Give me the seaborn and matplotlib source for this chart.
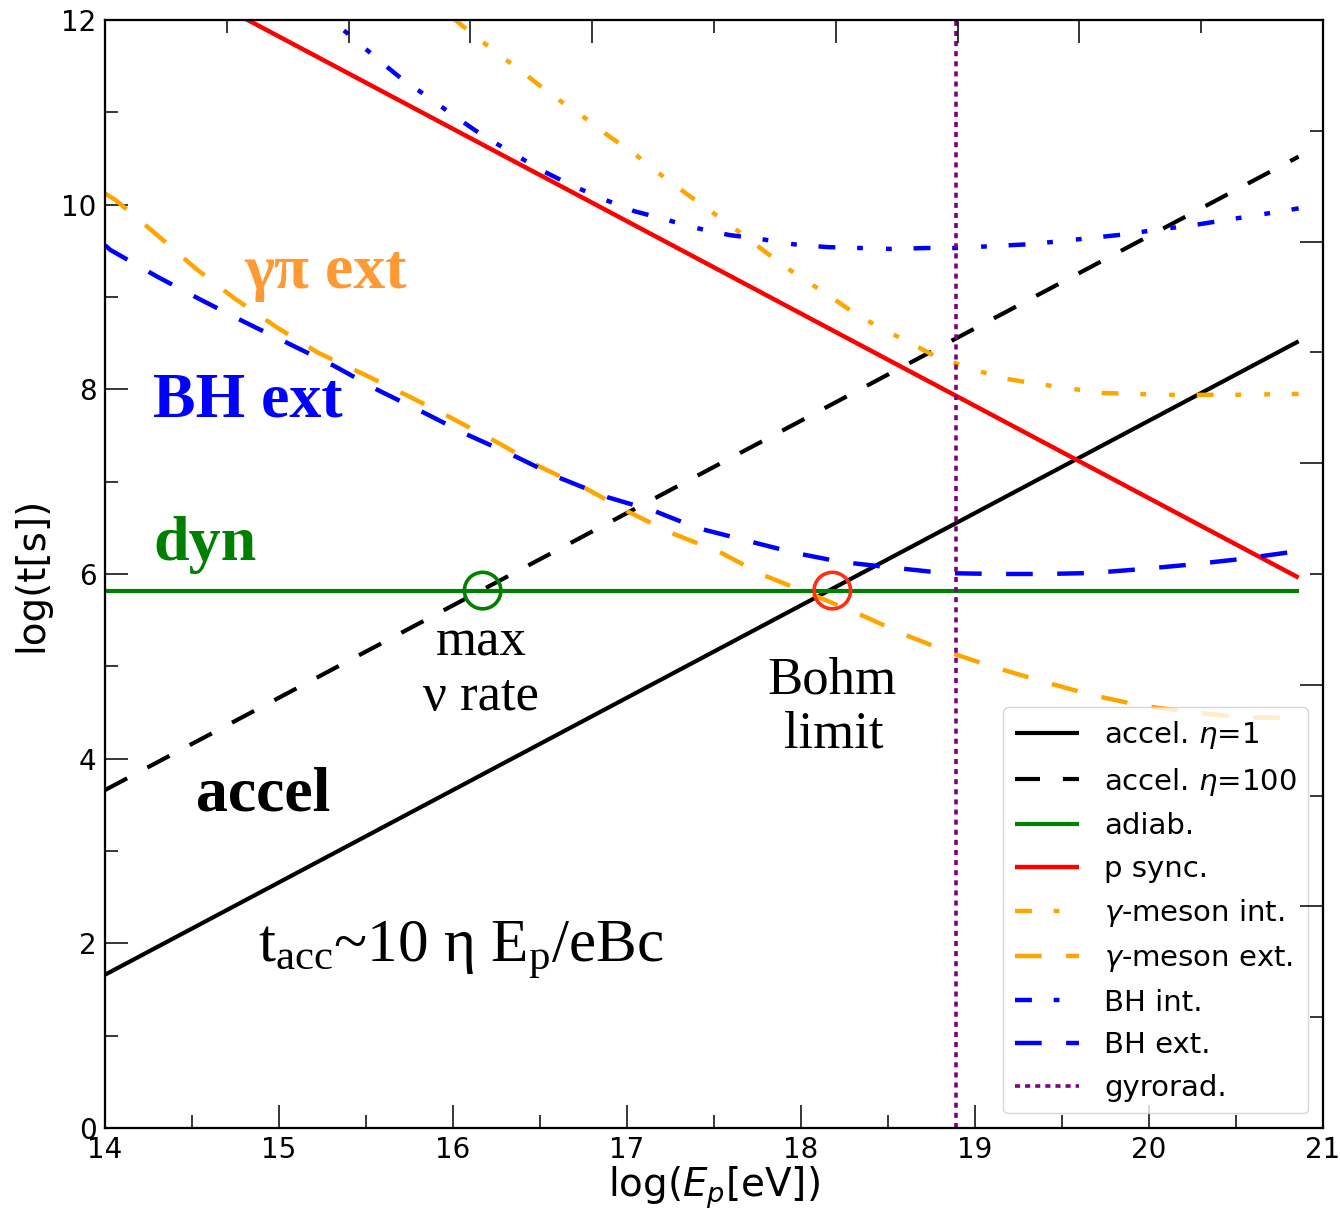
import numpy as np
import matplotlib
matplotlib.use("Agg")
import matplotlib.pyplot as plt
import seaborn as sns

# ---------------- data ----------------
x_line = [14.0, 20.86]
acc1_y = [1.66, 8.52]          # accel eta=1
acc100_y = [3.66, 10.52]       # accel eta=100
adiab_y = [5.82, 5.82]
psync_x = [14.0, 20.86]
psync_y = [12.82, 5.96]

gint_x = [16.00, 16.13, 16.29, 16.43, 16.58, 16.75, 16.89, 17.05, 17.21, 17.34, 17.51,
          17.67, 17.80, 17.96, 18.14, 18.28, 18.44, 18.63, 18.76, 18.95, 19.16, 19.32,
          19.54, 19.73, 20.10, 20.47, 20.86]
gint_y = [12.02, 11.82, 11.59, 11.39, 11.17, 10.95, 10.75, 10.54, 10.30, 10.12, 9.89,
          9.67, 9.48, 9.26, 9.04, 8.86, 8.68, 8.50, 8.37, 8.24, 8.12, 8.07,
          8.01, 7.96, 7.94, 7.94, 7.95]

gext_x = [14.00, 14.06, 14.30, 14.52, 14.74, 14.98, 15.22, 15.49, 15.75, 15.99, 16.26,
          16.50, 16.76, 17.00, 17.26, 17.53, 17.78, 18.10, 18.34, 18.60, 18.87, 19.11,
          19.40, 19.67, 19.94, 20.21, 20.52, 20.79, 20.86]
gext_y = [10.12, 10.05, 9.67, 9.31, 8.99, 8.68, 8.40, 8.16, 7.92, 7.69, 7.42,
          7.16, 6.93, 6.68, 6.44, 6.24, 5.99, 5.75, 5.56, 5.34, 5.14, 4.99,
          4.83, 4.69, 4.58, 4.51, 4.45, 4.44, 4.44]

bint_x = [15.20, 15.39, 15.57, 15.70, 15.86, 16.03, 16.17, 16.34, 16.51, 16.67, 16.85,
          17.04, 17.20, 17.39, 17.59, 17.76, 17.96, 18.15, 18.34, 18.52, 18.72, 18.89,
          19.09, 19.30, 19.47, 19.67, 19.87, 20.05, 20.23, 20.43, 20.60, 20.80, 20.86]
bint_y = [12.15, 11.86, 11.57, 11.37, 11.16, 10.93, 10.75, 10.56, 10.37, 10.22, 10.07,
          9.93, 9.85, 9.75, 9.67, 9.63, 9.57, 9.54, 9.53, 9.52, 9.53, 9.53,
          9.55, 9.57, 9.60, 9.64, 9.68, 9.73, 9.77, 9.83, 9.88, 9.94, 9.96]

bext_x = [14.00, 14.03, 14.30, 14.55, 14.80, 15.05, 15.31, 15.57, 15.84, 16.08, 16.34,
          16.60, 16.89, 17.16, 17.40, 17.67, 17.96, 18.23, 18.52, 18.82, 19.11, 19.40,
          19.67, 19.94, 20.23, 20.52, 20.79, 20.86]
bext_y = [9.56, 9.51, 9.22, 8.97, 8.73, 8.50, 8.26, 7.99, 7.74, 7.51, 7.29,
          7.05, 6.83, 6.68, 6.50, 6.37, 6.23, 6.13, 6.07, 6.01, 6.00, 6.00,
          6.01, 6.05, 6.10, 6.16, 6.23, 6.24]

gyro_x = [18.89, 18.89]
gyro_y = [0.0, 12.0]

nu_max = (16.17, 5.82)
bohm = (18.18, 5.82)

top_major = [15.4, 16.1, 16.8, 18.2, 18.9, 19.6]
top_minor = [14.7, 17.5, 20.3]
right_major = [0.0, 2.4, 4.8, 7.2, 9.6, 12.0]
right_minor = [1.2, 3.6, 6.0, 8.4, 10.8]

# ---------------- style ----------------
sns.set_style("ticks")
plt.rcParams["font.family"] = ["DejaVu Sans"]
plt.rcParams["mathtext.fontset"] = "dejavusans"
plt.rcParams["lines.solid_capstyle"] = "butt"
plt.rcParams["lines.dash_capstyle"] = "butt"
for k in ["text.color", "axes.labelcolor", "xtick.color", "ytick.color", "axes.edgecolor"]:
    plt.rcParams[k] = "black"

fig = plt.figure(figsize=(13.4, 12.1), dpi=100)
ax = fig.add_axes([0.0784, 0.0678, 0.9089, 0.9157])

DASH = (0, (6.0, 5.5))
DASHDOT = (0, (3.8, 4.9, 1.3, 5.2, 1.3, 4.9))
DOT = (0, (1.4, 1.4))

sns.lineplot(x=x_line, y=acc1_y, ax=ax, color="black", lw=3.0, label=r"accel. $\eta$=1")
sns.lineplot(x=x_line, y=acc100_y, ax=ax, color="black", lw=3.0, linestyle=DASH,
             label=r"accel. $\eta$=100")
sns.lineplot(x=x_line, y=adiab_y, ax=ax, color="green", lw=3.0, label="adiab.")
sns.lineplot(x=psync_x, y=psync_y, ax=ax, color="red", lw=3.2, label="p sync.")
sns.lineplot(x=gint_x, y=gint_y, ax=ax, color="orange", lw=3.2, linestyle=DASHDOT,
             label=r"$\gamma$-meson int.")
sns.lineplot(x=gext_x, y=gext_y, ax=ax, color="orange", lw=3.2, linestyle=DASH,
             label=r"$\gamma$-meson ext.")
sns.lineplot(x=bint_x, y=bint_y, ax=ax, color="blue", lw=3.2, linestyle=DASHDOT,
             label="BH int.")
sns.lineplot(x=bext_x, y=bext_y, ax=ax, color="blue", lw=3.2, linestyle=DASH,
             label="BH ext.")
sns.lineplot(x=gyro_x, y=gyro_y, ax=ax, color="purple", lw=2.6, linestyle=DOT,
             estimator=None, sort=False, label="gyrorad.")

sns.scatterplot(x=[nu_max[0]], y=[nu_max[1]], ax=ax, marker="o", s=690, color="green",
                facecolor="none", edgecolor="green", linewidth=2.6, zorder=5)
sns.scatterplot(x=[bohm[0]], y=[bohm[1]], ax=ax, marker="o", s=690, color="#FF2E12",
                facecolor="none", edgecolor="#FF2E12", linewidth=2.6, zorder=5)

ax.set_xlim(14, 21)
ax.set_ylim(0, 12)
ax.set_xticks(range(14, 22))
ax.set_yticks(range(0, 13, 2))
ax.set_xticks(np.arange(14.5, 21, 1.0), minor=True)
ax.set_yticks(np.arange(1, 12, 2), minor=True)
ax.tick_params(which="major", direction="in", length=16.5, width=1.1, labelsize=20, pad=6)
ax.tick_params(which="minor", direction="in", length=9.4, width=1.1)
ax.tick_params(top=False, right=False, which="both")
for s in ax.spines.values():
    s.set_linewidth(1.5)

ax.set_xlabel(r"log($E_p$[eV])", fontsize=28, labelpad=0)
ax.set_ylabel("log(t[s])", fontsize=28, labelpad=8)

# secondary tick axes
axt = ax.twiny()
axt.set_xlim(14, 21)
axt.set_xticks(top_major)
axt.set_xticks(top_minor, minor=True)
axt.tick_params(which="major", direction="in", length=16.5, width=1.1, labeltop=False)
axt.tick_params(which="minor", direction="in", length=9.4, width=1.1, labeltop=False)
axr = ax.twinx()
axr.set_ylim(0, 12)
axr.set_yticks(right_major)
axr.set_yticks(right_minor, minor=True)
axr.tick_params(which="major", direction="in", length=16.5, width=1.1, labelright=False)
axr.tick_params(which="minor", direction="in", length=9.4, width=1.1, labelright=False)
for a in (axt, axr):
    for s in a.spines.values():
        s.set_linewidth(1.5)

# legend
ax.legend(loc="lower right", fontsize=21, handlelength=2.2, handletextpad=0.85,
          borderaxespad=0.5, labelspacing=0.5, framealpha=0.8)

# annotations
serif = ["Liberation Serif", "DejaVu Serif"]
ax.text(15.27, 9.10, "γπ ext", color="#FF9933", fontsize=46, fontweight="bold",
        family=serif, ha="center", va="baseline")
ax.text(14.275, 7.70, "BH ext", color="blue", fontsize=46, fontweight="bold",
        family=serif, ha="left", va="baseline")
ax.text(14.275, 6.15, "dyn", color="green", fontsize=46, fontweight="bold",
        family=serif, ha="left", va="baseline")
ax.text(14.52, 3.44, "accel", color="black", fontsize=46, fontweight="bold",
        family=serif, ha="left", va="baseline")
ax.text(16.16, 5.12, "max", color="black", fontsize=38, family=serif,
        ha="center", va="baseline")
ax.text(16.16, 4.53, "ν rate", color="black", fontsize=38, family=serif,
        ha="center", va="baseline")
ax.text(18.18, 4.71, "Bohm", color="black", fontsize=38, family=serif,
        ha="center", va="baseline")
ax.text(18.19, 4.12, "limit", color="black", fontsize=38, family=serif,
        ha="center", va="baseline")
ax.text(14.88, 1.80, r"t$\mathregular{_{acc}}$~10 η E$\mathregular{_p}$/eBc",
        color="black", fontsize=44, family=serif, ha="left", va="baseline")

fig.savefig("out.png", dpi=100)
